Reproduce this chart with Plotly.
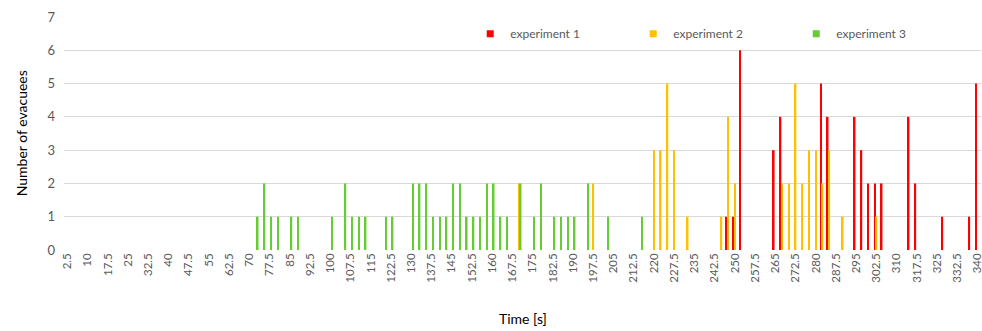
import numpy as np
import plotly.graph_objects as go

# Time bins (s) with non-zero counts, and number of evacuees per bin
exp1_time = [247.5, 250, 252.5, 265, 267.5, 282.5, 285, 295, 297.5, 300, 302.5, 305,
             315, 317.5, 327.5, 337.5, 340]
exp1_count = [1, 1, 6, 3, 4, 5, 4, 4, 3, 2, 2, 2, 4, 2, 1, 1, 5]

exp2_time = [170, 197.5, 220, 222.5, 225, 227.5, 232.5, 245, 247.5, 250, 267.5, 270,
             272.5, 275, 277.5, 280, 282.5, 285, 290, 302.5]
exp2_count = [2, 2, 3, 3, 5, 3, 1, 1, 4, 2, 2, 2, 5, 2, 3, 3, 2, 3, 1, 1]

exp3_time = [72.5, 75, 77.5, 80, 85, 87.5, 100, 105, 107.5, 110, 112.5, 120, 122.5,
             130, 132.5, 135, 137.5, 140, 142.5, 145, 147.5, 150, 152.5, 155, 157.5,
             160, 162.5, 165, 170, 175, 177.5, 182.5, 185, 187.5, 190, 195, 202.5, 215]
exp3_count = [1, 2, 1, 1, 1, 1, 1, 2, 1, 1, 1, 1, 1,
              2, 2, 2, 1, 1, 1, 2, 2, 1, 1, 1, 2,
              2, 1, 1, 2, 1, 2, 1, 1, 1, 1, 2, 1, 1]

series_names = ["experiment 1", "experiment 2", "experiment 3"]
series_colors = ["#FF0000", "#FFC000", "#66CC33"]

tick_values = [round(v, 1) for v in np.arange(2.5, 340.01, 7.5)]
tick_labels = [f"{v:g}" for v in tick_values]

FONT = "Lato"
GRAY = "#595959"

fig = go.Figure()
for name, color, xs, ys in zip(series_names, series_colors,
                               [exp1_time, exp2_time, exp3_time],
                               [exp1_count, exp2_count, exp3_count]):
    fig.add_trace(go.Bar(x=xs, y=ys, name=name, marker_color=color,
                         marker_line_width=0, showlegend=False))
# legend entries with small square symbols
for name, color in zip(series_names, series_colors):
    fig.add_trace(go.Scatter(x=[None], y=[None], mode="markers", name=name,
                             marker=dict(symbol="square", size=7, color=color)))

fig.update_layout(
    width=982, height=331,
    margin=dict(l=64, r=1, t=17, b=81),
    paper_bgcolor="white", plot_bgcolor="white",
    barmode="group", bargap=0.3, bargroupgap=0,
    font=dict(family=FONT, color=GRAY),
    legend=dict(orientation="h", x=0.443, xanchor="left", y=0.928, yanchor="middle",
                entrywidth=118, entrywidthmode="pixels",
                font=dict(family=FONT, size=12, color=GRAY),
                bgcolor="rgba(0,0,0,0)", itemwidth=30),
    xaxis=dict(range=[1.25, 341.25], tickmode="array", tickvals=tick_values,
               ticktext=tick_labels, tickangle=-90, showgrid=False, zeroline=False,
               showline=False, ticks="", automargin=False, ticklabeloverflow="allow",
               tickfont=dict(family=FONT, size=11.5, color=GRAY)),
    yaxis=dict(range=[0, 7], dtick=1, showgrid=True, gridcolor="#D9D9D9", gridwidth=1,
               zeroline=False, showline=False, ticks="", ticklabelstandoff=8,
               automargin=False, tickfont=dict(family=FONT, size=13, color=GRAY)),
    annotations=[
        dict(text="Number of evacuees", xref="paper", yref="paper", x=-0.046, y=0.5,
             xanchor="center", yanchor="middle", textangle=-90, showarrow=False,
             font=dict(family=FONT, size=14, color="#000000")),
        dict(text="Time [s]", xref="paper", yref="paper", x=0.5, y=-0.292,
             xanchor="center", yanchor="middle", showarrow=False,
             font=dict(family=FONT, size=14, color="#000000")),
    ],
)

fig.write_html("out.html", config={"displayModeBar": False},
               post_script="document.body.style.margin='0';")
